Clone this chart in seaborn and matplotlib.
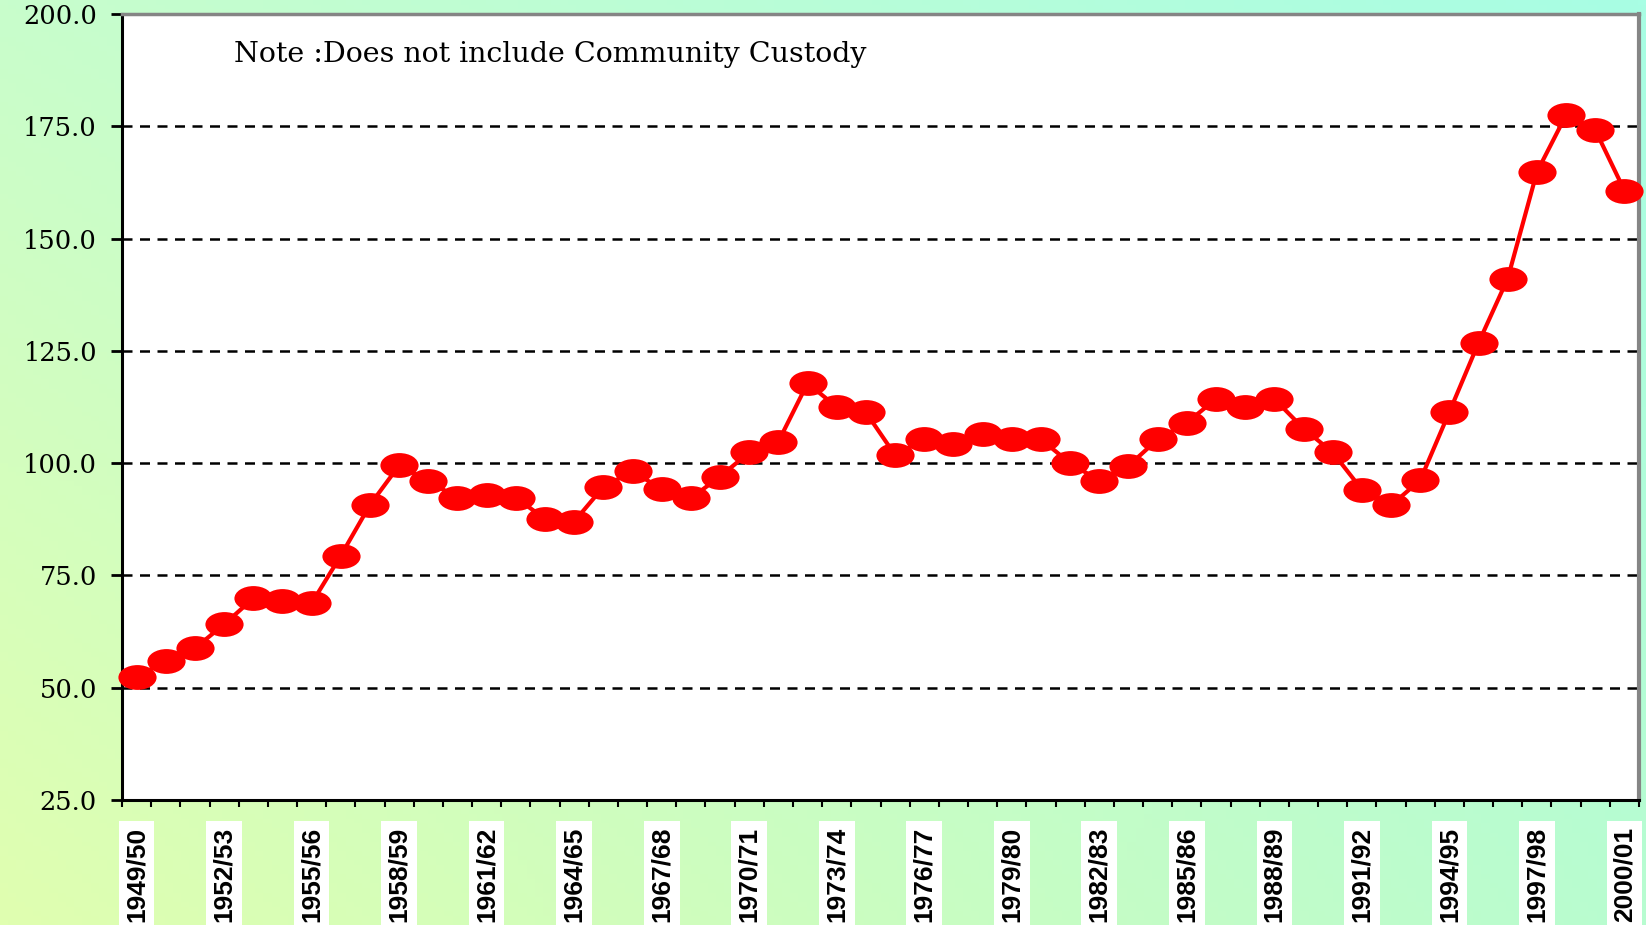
import numpy as np
import pandas as pd
import matplotlib
matplotlib.use("Agg")
import matplotlib.pyplot as plt
from matplotlib.path import Path
from matplotlib.ticker import FixedLocator
import seaborn as sns

# ---------------- data ----------------
years = ["1949/50", "1950/51", "1951/52", "1952/53", "1953/54", "1954/55", "1955/56",
         "1956/57", "1957/58", "1958/59", "1959/60", "1960/61", "1961/62", "1962/63",
         "1963/64", "1964/65", "1965/66", "1966/67", "1967/68", "1968/69", "1969/70",
         "1970/71", "1971/72", "1972/73", "1973/74", "1974/75", "1975/76", "1976/77",
         "1977/78", "1978/79", "1979/80", "1980/81", "1981/82", "1982/83", "1983/84",
         "1984/85", "1985/86", "1986/87", "1987/88", "1988/89", "1989/90", "1990/91",
         "1991/92", "1992/93", "1993/94", "1994/95", "1995/96", "1996/97", "1997/98",
         "1998/99", "1999/00", "2000/01"]
values = [52.4, 55.9, 58.8, 64.1, 69.9, 69.4, 68.8, 79.4, 90.7, 99.5,
          96.0, 92.3, 92.9, 92.3, 87.6, 87.0, 94.7, 98.2, 94.2, 92.2,
          97.0, 102.4, 104.8, 117.8, 112.5, 111.3, 101.8, 105.3, 104.2, 106.5,
          105.3, 105.3, 100.0, 96.1, 99.4, 105.3, 109.0, 114.3, 112.5, 114.3,
          107.7, 102.4, 94.1, 90.6, 96.2, 111.4, 126.8, 141.1, 164.8, 177.5,
          174.2, 160.7]
y_ticks = [25.0, 50.0, 75.0, 100.0, 125.0, 150.0, 175.0, 200.0]
label_step = 3
note_text = "Note :Does not include Community Custody"

df = pd.DataFrame({"pos": np.arange(len(years)), "value": values, "year": years})

# ---------------- figure ----------------
W, H = 1646, 925
fig = plt.figure(figsize=(W / 100, H / 100), dpi=100)

# gradient background
bg = fig.add_axes([0, 0, 1, 1], zorder=-10)
n = 200
X, Y = np.meshgrid(np.linspace(0, 1, n), np.linspace(0, 1, n))
BL = np.array([224, 255, 176]) / 255
BR = np.array([184, 252, 208]) / 255
TL = np.array([200, 253, 204]) / 255
TR = np.array([168, 254, 228]) / 255
img = (BL * ((1 - X) * (1 - Y))[..., None] + BR * (X * (1 - Y))[..., None]
       + TL * ((1 - X) * Y)[..., None] + TR * (X * Y)[..., None])
bg.imshow(img, origin="lower", extent=[0, 1, 0, 1], aspect="auto")
bg.set_axis_off()

left_px, right_px, top_px, bottom_px = 122, 1639, 14, 800
ax = fig.add_axes([left_px / W, (H - bottom_px) / H,
                   (right_px - left_px) / W, (bottom_px - top_px) / H])
ax.set_facecolor("white")

# elliptical marker
circ = Path.unit_circle()
ellipse = Path(circ.vertices * np.array([1.0, 0.65]), circ.codes)

sns.lineplot(data=df, x="pos", y="value", ax=ax, color="#ff0000", linewidth=3,
             marker=ellipse, markersize=27.5, markeredgewidth=0,
             markerfacecolor="#ff0000", clip_on=False, zorder=5)

ax.set_xlim(-0.5, len(years) - 0.5)
ax.set_ylim(y_ticks[0], y_ticks[-1])
ax.set_xlabel("")
ax.set_ylabel("")

# y axis
ax.set_yticks(y_ticks)
ax.set_yticklabels([f"{v:.1f}" for v in y_ticks], family="DejaVu Serif", fontsize=18.5)
ax.tick_params(axis="y", direction="out", length=8, width=2, pad=10, colors="black")
ax.yaxis.grid(True, color="black", linestyle=(0, (4, 3)), linewidth=1.8)
ax.xaxis.grid(False)
ax.set_axisbelow(True)

# x axis: labels every 3rd category, tick marks at category boundaries
lab_pos = list(range(0, len(years), label_step))
ax.set_xticks(lab_pos)
ax.set_xticklabels([years[i] for i in lab_pos], rotation=90,
                   family=["Liberation Sans", "DejaVu Sans"], fontsize=19,
                   fontweight="bold")
for t in ax.get_xticklabels():
    t.set_bbox(dict(facecolor="white", edgecolor="none", boxstyle="square,pad=0.22"))
ax.tick_params(axis="x", which="major", length=0, pad=19)
ax.xaxis.set_minor_locator(FixedLocator(np.arange(-0.5, len(years), 1.0)))
ax.tick_params(axis="x", which="minor", direction="out", length=5, width=1.5,
               colors="black")

# spines
for s in ["left", "bottom"]:
    ax.spines[s].set_color("black")
    ax.spines[s].set_linewidth(2.2)
ax.spines["top"].set_color("#858585")
ax.spines["top"].set_linewidth(2.5)
ax.spines["right"].set_color("#858585")
ax.spines["right"].set_linewidth(3)

ax.text((234 - left_px) / (right_px - left_px), (bottom_px - 54) / (bottom_px - top_px),
        note_text, transform=ax.transAxes, family="DejaVu Serif", fontsize=20.5,
        ha="left", va="center", color="black")

fig.savefig("out.png", dpi=100)
